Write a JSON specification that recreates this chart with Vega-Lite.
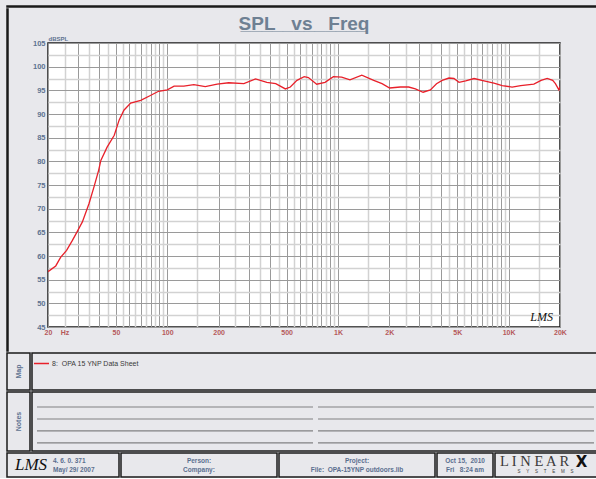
{
  "$schema": "https://vega.github.io/schema/vega-lite/v6.json",
  "background": "#e8e8ec",
  "padding": {"left": 6, "top": 5, "right": 0, "bottom": 0},
  "spacing": 0,
  "resolve": {"legend": {"color": "independent"}},
  "config": {
    "font": "Liberation Sans",
    "view": {"stroke": "#1a1a1a", "strokeWidth": 1.5},
    "concat": {"spacing": 0}
  },
  "vconcat": [
    {
      "data": {"values": []},
      "mark": {"type": "point", "opacity": 0, "size": 0},
      "width": 592,
      "height": 1,
      "view": {"fill": "#1a1a1a", "stroke": "#1a1a1a", "strokeWidth": 1.5},
      "encoding": {
        "x": {"datum": 0, "type": "quantitative", "scale": {"domain": [-1, 1]}, "axis": null},
        "y": {"datum": 0, "type": "quantitative", "scale": {"domain": [-1, 1]}, "axis": null}
      }
    },
    {
      "spacing": 0,
      "hconcat": [
        {
          "data": {"values": []},
          "mark": {"type": "point", "opacity": 0, "size": 0},
          "width": 1,
          "height": 342,
          "view": {"fill": "#1a1a1a", "stroke": "#1a1a1a", "strokeWidth": 1.5},
          "encoding": {
            "x": {"datum": 0, "type": "quantitative", "scale": {"domain": [-1, 1]}, "axis": null},
            "y": {"datum": 0, "type": "quantitative", "scale": {"domain": [-1, 1]}, "axis": null}
          }
        },
        {
          "spacing": 0,
          "vconcat": [
            {
              "width": 512,
              "height": 25,
              "data": {"values": [{"title": "SPL\u00a0\u00a0\u00a0vs\u00a0\u00a0\u00a0Freq", "rule": "____________"}]},
              "layer": [
                {
                  "mark": {"type": "text", "font": "Liberation Sans", "fontSize": 19, "fontWeight": "bold", "color": "#6e8093", "baseline": "alphabetic", "dy": 8},
                  "encoding": {"text": {"field": "title"}}
                },
                {
                  "mark": {"type": "text", "font": "Liberation Sans", "fontSize": 19, "fontWeight": "bold", "color": "#6e8093", "baseline": "alphabetic", "dy": 8},
                  "encoding": {"text": {"field": "rule"}}
                }
              ]
            },
            {
              "width": 512,
              "height": 284,
              "view": {"fill": "white", "stroke": "#1a1a1a", "strokeWidth": 1.5},
              "resolve": {"axis": {"y": "independent"}},
              "layer": [
                {
                  "data": {"values": [
                    {"freq": 20, "spl": 56.7},
                    {"freq": 22.2, "spl": 57.9},
                    {"freq": 23.7, "spl": 59.7},
                    {"freq": 25.7, "spl": 61.2},
                    {"freq": 27.8, "spl": 63.3},
                    {"freq": 29.6, "spl": 65.1},
                    {"freq": 31.8, "spl": 67.2},
                    {"freq": 34.8, "spl": 71.1},
                    {"freq": 37.2, "spl": 74.6},
                    {"freq": 39.6, "spl": 78.1},
                    {"freq": 40.8, "spl": 80.2},
                    {"freq": 44.4, "spl": 83.0},
                    {"freq": 48.9, "spl": 85.5},
                    {"freq": 52.2, "spl": 88.7},
                    {"freq": 55.7, "spl": 90.8},
                    {"freq": 61, "spl": 92.3},
                    {"freq": 69.9, "spl": 92.9},
                    {"freq": 79.6, "spl": 93.9},
                    {"freq": 88.9, "spl": 94.8},
                    {"freq": 100, "spl": 95.1},
                    {"freq": 109.6, "spl": 95.9},
                    {"freq": 125, "spl": 95.9},
                    {"freq": 143, "spl": 96.2},
                    {"freq": 167, "spl": 95.8},
                    {"freq": 196, "spl": 96.3},
                    {"freq": 229, "spl": 96.6},
                    {"freq": 281, "spl": 96.4},
                    {"freq": 329, "spl": 97.4},
                    {"freq": 383, "spl": 96.7},
                    {"freq": 432, "spl": 96.4},
                    {"freq": 492, "spl": 95.3},
                    {"freq": 526, "spl": 95.7},
                    {"freq": 575, "spl": 97.1},
                    {"freq": 634, "spl": 97.9},
                    {"freq": 671, "spl": 97.7},
                    {"freq": 751, "spl": 96.3},
                    {"freq": 840, "spl": 96.7},
                    {"freq": 940, "spl": 97.9},
                    {"freq": 1051, "spl": 97.8},
                    {"freq": 1176, "spl": 97.2},
                    {"freq": 1380, "spl": 98.2},
                    {"freq": 1620, "spl": 97.1},
                    {"freq": 1812, "spl": 96.4},
                    {"freq": 2009, "spl": 95.5},
                    {"freq": 2320, "spl": 95.7},
                    {"freq": 2596, "spl": 95.7},
                    {"freq": 2842, "spl": 95.3},
                    {"freq": 3154, "spl": 94.6},
                    {"freq": 3480, "spl": 95.1},
                    {"freq": 3780, "spl": 96.4},
                    {"freq": 4080, "spl": 97.1},
                    {"freq": 4470, "spl": 97.6},
                    {"freq": 4780, "spl": 97.5},
                    {"freq": 5120, "spl": 96.7},
                    {"freq": 5600, "spl": 97.0},
                    {"freq": 6270, "spl": 97.5},
                    {"freq": 7170, "spl": 97.0},
                    {"freq": 8200, "spl": 96.5},
                    {"freq": 9170, "spl": 96.0},
                    {"freq": 10480, "spl": 95.7},
                    {"freq": 11770, "spl": 96.0},
                    {"freq": 14050, "spl": 96.3},
                    {"freq": 15500, "spl": 97.1},
                    {"freq": 16830, "spl": 97.5},
                    {"freq": 18120, "spl": 97.1},
                    {"freq": 18800, "spl": 96.4},
                    {"freq": 19700, "spl": 95.1},
                    {"freq": 20000, "spl": 95.8}
                  ]},
                  "mark": {"type": "line", "color": "#e8202a", "strokeWidth": 1.3, "clip": true},
                  "encoding": {
                    "x": {
                      "field": "freq",
                      "type": "quantitative",
                      "scale": {"type": "log", "domain": [20, 20000], "nice": false},
                      "axis": {
                        "values": [20,25,30,35,40,45,50,55,60,65,70,75,80,85,90,95,100,150,200,250,300,350,400,450,500,550,600,650,700,750,800,850,900,950,1000,1500,2000,2500,3000,3500,4000,4500,5000,5500,6000,6500,7000,7500,8000,8500,9000,9500,10000,15000,20000],
                        "title": null,
                        "grid": true,
                        "gridColor": {"condition": {"test": "datum.value % pow(10, floor(log(datum.value)/LN10 + 1e-9)) == 0", "value": "#9a9a9a"}, "value": "#d2d2d2"},
                        "gridWidth": {"condition": {"test": "datum.value % pow(10, floor(log(datum.value)/LN10 + 1e-9)) == 0", "value": 1}, "value": 1.5},
                        "ticks": false,
                        "domain": false,
                        "labelExpr": "datum.value == 25 ? 'Hz' : indexof([20,50,100,200,500], datum.value) >= 0 ? datum.value + '' : indexof([1000,2000,5000,10000,20000], datum.value) >= 0 ? (datum.value/1000) + 'K' : ''",
                        "labelFlush": false,
                        "labelOverlap": false,
                        "labelBound": false,
                        "labelColor": "#b5585a",
                        "labelFontSize": 7,
                        "labelFontWeight": "bold",
                        "labelPadding": 1,
                        "minExtent": 15,
                        "maxExtent": 15
                      }
                    },
                    "y": {
                      "field": "spl",
                      "type": "quantitative",
                      "scale": {"domain": [45, 105], "nice": false, "zero": false},
                      "axis": {
                        "orient": "left",
                        "values": [45,50,55,60,65,70,75,80,85,90,95,100,105],
                        "grid": true,
                        "gridColor": "#9a9a9a",
                        "gridWidth": 1,
                        "ticks": false,
                        "domain": false,
                        "labelFlush": false,
                        "labelOverlap": false,
                        "labelColor": "#5d7290",
                        "labelFontSize": 7.5,
                        "labelFontWeight": "bold",
                        "labelPadding": 3,
                        "minExtent": 38,
                        "title": "dBSPL",
                        "titleAngle": 0,
                        "titleAlign": "left",
                        "titleBaseline": "alphabetic",
                        "titleX": 0,
                        "titleY": -3,
                        "titleFontSize": 6,
                        "titleFontWeight": "bold",
                        "titleColor": "#5d7290"
                      }
                    }
                  }
                },
                {
                  "data": {"values": [{"tag": "LMS"}]},
                  "mark": {"type": "text", "font": "Liberation Serif", "fontStyle": "italic", "fontSize": 12, "color": "#111111"},
                  "encoding": {
                    "x": {"datum": 15600, "type": "quantitative", "title": null},
                    "y": {
                      "datum": 47.2,
                      "type": "quantitative",
                      "title": null,
                      "axis": {
                        "orient": "left",
                        "values": [47.5,52.5,57.5,62.5,67.5,72.5,77.5,82.5,87.5,92.5,97.5,102.5],
                        "grid": true,
                        "gridColor": "#d2d2d2",
                        "gridWidth": 1.5,
                        "labels": false,
                        "ticks": false,
                        "domain": false,
                        "title": null,
                        "minExtent": 0
                      }
                    },
                    "text": {"field": "tag"}
                  }
                }
              ]
            }
          ]
        }
      ]
    },
    {
      "spacing": 0,
      "resolve": {"legend": {"color": "independent"}},
      "hconcat": [
        {
          "width": 23,
          "height": 37,
          "view": {"stroke": "#1a1a1a", "strokeWidth": 1.5},
          "data": {"values": [{"label": "Map"}]},
          "mark": {"type": "text", "angle": 270, "fontSize": 7, "fontWeight": "bold", "color": "#5d7290"},
          "encoding": {
            "x": {"datum": 0, "type": "quantitative", "scale": {"domain": [-1, 1]}, "axis": null},
            "y": {"datum": 0, "type": "quantitative", "scale": {"domain": [-1, 1]}, "axis": null},
            "text": {"field": "label"}
          }
        },
        {
          "width": 567,
          "height": 37,
          "view": {"stroke": "#1a1a1a", "strokeWidth": 1.5},
          "data": {"values": [{"curve": "8:\u00a0 OPA 15 YNP Data Sheet"}]},
          "mark": {"type": "line", "strokeWidth": 1.5},
          "encoding": {
            "x": {"datum": 0, "type": "quantitative", "scale": {"domain": [-1, 1]}, "axis": null},
            "y": {"datum": 0, "type": "quantitative", "scale": {"domain": [-1, 1]}, "axis": null},
            "color": {
              "field": "curve",
              "type": "nominal",
              "scale": {"range": ["#e8202a"]},
              "legend": {
                "orient": "none",
                "legendX": 1,
                "legendY": 2,
                "title": null,
                "symbolType": "stroke",
                "symbolSize": 225,
                "symbolStrokeWidth": 1.5,
                "labelFontSize": 7,
                "labelColor": "#3a3a3a",
                "labelOffset": 2,
                "padding": 0
              }
            }
          }
        }
      ]
    },
    {
      "spacing": 0,
      "hconcat": [
        {
          "width": 23,
          "height": 59,
          "view": {"stroke": "#1a1a1a", "strokeWidth": 1.5},
          "data": {"values": [{"label": "Notes"}]},
          "mark": {"type": "text", "angle": 270, "fontSize": 7, "fontWeight": "bold", "color": "#5d7290"},
          "encoding": {
            "x": {"datum": 0, "type": "quantitative", "scale": {"domain": [-1, 1]}, "axis": null},
            "y": {"datum": 0, "type": "quantitative", "scale": {"domain": [-1, 1]}, "axis": null},
            "text": {"field": "label"}
          }
        },
        {
          "width": 567,
          "height": 59,
          "view": {"stroke": "#1a1a1a", "strokeWidth": 1.5},
          "data": {"values": [
            {"column": "left", "line": 1}, {"column": "left", "line": 2}, {"column": "left", "line": 3}, {"column": "left", "line": 4},
            {"column": "right", "line": 1}, {"column": "right", "line": 2}, {"column": "right", "line": 3}, {"column": "right", "line": 4}
          ]},
          "mark": {"type": "tick", "size": 276, "thickness": 1.2, "color": "#555555"},
          "encoding": {
            "x": {"field": "column", "type": "nominal", "axis": null, "scale": {"paddingInner": 0.0178, "paddingOuter": 0.0178}},
            "y": {"field": "line", "type": "quantitative", "axis": null, "scale": {"domain": [-0.25, 4.67], "reverse": true}}
          }
        }
      ]
    },
    {
      "spacing": 0,
      "hconcat": [
        {
          "width": 112,
          "height": 24,
          "view": {"stroke": "#1a1a1a", "strokeWidth": 1.5},
          "data": {"values": [{"logo": "LMS", "version": "4. 6. 0. 371\nMay/ 29/ 2007"}]},
          "encoding": {
            "x": {"datum": 0, "type": "quantitative", "scale": {"domain": [-1, 1]}, "axis": null},
            "y": {"datum": 0, "type": "quantitative", "scale": {"domain": [-1, 1]}, "axis": null}
          },
          "layer": [
            {
              "mark": {"type": "text", "font": "Liberation Serif", "fontStyle": "italic", "fontSize": 17, "color": "#111111", "dx": -32},
              "encoding": {"text": {"field": "logo"}}
            },
            {
              "mark": {"type": "text", "align": "left", "dx": -10, "dy": -4.5, "lineBreak": "\n", "lineHeight": 9, "fontSize": 6.5, "fontWeight": "bold", "color": "#5b6f8f"},
              "encoding": {"text": {"field": "version"}}
            }
          ]
        },
        {
          "width": 156,
          "height": 24,
          "view": {"stroke": "#1a1a1a", "strokeWidth": 1.5},
          "data": {"values": [{"t": "Person:\nCompany:"}]},
          "mark": {"type": "text", "dy": -4.5, "lineBreak": "\n", "lineHeight": 9, "fontSize": 6.5, "fontWeight": "bold", "color": "#5b6f8f"},
          "encoding": {
            "x": {"datum": 0, "type": "quantitative", "scale": {"domain": [-1, 1]}, "axis": null},
            "y": {"datum": 0, "type": "quantitative", "scale": {"domain": [-1, 1]}, "axis": null},
            "text": {"field": "t"}
          }
        },
        {
          "width": 156,
          "height": 24,
          "view": {"stroke": "#1a1a1a", "strokeWidth": 1.5},
          "data": {"values": [{"t": "Project:\nFile:\u00a0 OPA-15YNP outdoors.lib"}]},
          "mark": {"type": "text", "dy": -4.5, "lineBreak": "\n", "lineHeight": 9, "fontSize": 6.5, "fontWeight": "bold", "color": "#5b6f8f"},
          "encoding": {
            "x": {"datum": 0, "type": "quantitative", "scale": {"domain": [-1, 1]}, "axis": null},
            "y": {"datum": 0, "type": "quantitative", "scale": {"domain": [-1, 1]}, "axis": null},
            "text": {"field": "t"}
          }
        },
        {
          "width": 56,
          "height": 24,
          "view": {"stroke": "#1a1a1a", "strokeWidth": 1.5},
          "data": {"values": [{"t": "Oct 15,\u00a0 2010\nFri\u00a0\u00a0 8:24 am"}]},
          "mark": {"type": "text", "dy": -4.5, "lineBreak": "\n", "lineHeight": 9, "fontSize": 6.5, "fontWeight": "bold", "color": "#5b6f8f"},
          "encoding": {
            "x": {"datum": 0, "type": "quantitative", "scale": {"domain": [-1, 1]}, "axis": null},
            "y": {"datum": 0, "type": "quantitative", "scale": {"domain": [-1, 1]}, "axis": null},
            "text": {"field": "t"}
          }
        },
        {
          "width": 105,
          "height": 24,
          "view": {"stroke": "#1a1a1a", "strokeWidth": 1.5},
          "data": {"values": [{"word": "L I N E A R", "x": "X", "sub": "S\u2003 Y\u2003 S\u2003 T\u2003 E\u2003 M\u2003 S"}]},
          "encoding": {
            "x": {"datum": 0, "type": "quantitative", "scale": {"domain": [-1, 1]}, "axis": null},
            "y": {"datum": 0, "type": "quantitative", "scale": {"domain": [-1, 1]}, "axis": null}
          },
          "layer": [
            {
              "mark": {"type": "text", "font": "Liberation Serif", "fontSize": 14.5, "color": "#3a3a3a", "dx": -13, "dy": -3.5},
              "encoding": {"text": {"field": "word"}}
            },
            {
              "mark": {"type": "text", "font": "DejaVu Sans", "fontWeight": "bold", "fontSize": 15, "color": "#111111", "dx": 34, "dy": -3.5},
              "encoding": {"text": {"field": "x"}}
            },
            {
              "mark": {"type": "text", "fontSize": 4.5, "color": "#3a3a3a", "dx": -2, "dy": 6.5},
              "encoding": {"text": {"field": "sub"}}
            }
          ]
        }
      ]
    }
  ]
}
